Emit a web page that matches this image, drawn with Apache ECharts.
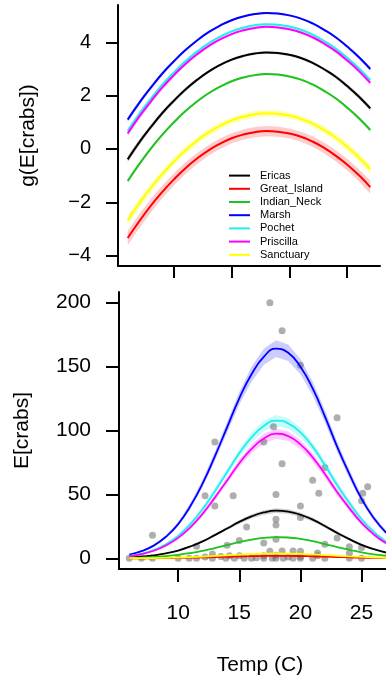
<!DOCTYPE html>
<html>
<head>
<meta charset="utf-8">
<title>Crabs vs temperature</title>
<script src="https://cdn.jsdelivr.net/npm/echarts@6/dist/echarts.min.js"></script>
<style>
  html, body { margin: 0; padding: 0; background: #fff; }
  #chart { width: 386px; height: 681px; }
</style>
</head>
<body>
<div id="chart"></div>
<script>
// temperature grid the fitted curves were read at
const temps = [6, 7, 8, 9, 10, 11, 12, 13, 14, 15, 16, 17, 18, 19, 20, 21, 22, 23, 24, 25, 26, 27];

const sites = ['Ericas', 'Great_Island', 'Indian_Neck', 'Marsh', 'Pochet', 'Priscilla', 'Sanctuary'];
const siteColors = ['#000000', '#ff0000', '#1fc21f', '#0000ff', '#22eeee', '#ff00ff', '#ffff00'];
const bandColors = ['rgba(0,0,0,0.18)', 'rgba(255,0,0,0.2)', 'rgba(31,194,31,0.2)', 'rgba(0,0,255,0.2)',
  'rgba(34,238,238,0.25)', 'rgba(255,0,255,0.2)', 'rgba(255,255,0,0.3)'];

// top panel: link scale g(E[crabs])
const linkEricas = [-0.39, 0.25, 0.82, 1.35, 1.81, 2.23, 2.59, 2.90, 3.15, 3.35, 3.49, 3.58, 3.62, 3.60, 3.53, 3.41, 3.23, 2.99, 2.71, 2.36, 1.97, 1.52];
const linkGreatIsland = [-3.34, -2.71, -2.13, -1.61, -1.14, -0.72, -0.36, -0.05, 0.20, 0.40, 0.54, 0.63, 0.67, 0.65, 0.58, 0.46, 0.28, 0.04, -0.25, -0.59, -0.98, -1.43];
const linkIndianNeck = [-1.20, -0.57, 0.01, 0.54, 1.00, 1.42, 1.78, 2.09, 2.34, 2.54, 2.68, 2.77, 2.81, 2.79, 2.72, 2.60, 2.42, 2.18, 1.90, 1.55, 1.16, 0.71];
const linkMarsh = [1.10, 1.73, 2.30, 2.83, 3.29, 3.71, 4.07, 4.38, 4.63, 4.83, 4.97, 5.06, 5.10, 5.08, 5.01, 4.89, 4.71, 4.47, 4.19, 3.84, 3.45, 3.00];
const linkPochet = [0.68, 1.31, 1.88, 2.41, 2.87, 3.29, 3.65, 3.96, 4.21, 4.41, 4.55, 4.64, 4.68, 4.66, 4.59, 4.47, 4.29, 4.05, 3.77, 3.42, 3.03, 2.58];
const linkPriscilla = [0.58, 1.21, 1.78, 2.31, 2.77, 3.19, 3.55, 3.86, 4.11, 4.31, 4.45, 4.54, 4.58, 4.56, 4.49, 4.37, 4.19, 3.95, 3.67, 3.32, 2.93, 2.48];
const linkSanctuary = [-2.67, -2.04, -1.46, -0.94, -0.47, -0.05, 0.31, 0.62, 0.87, 1.07, 1.21, 1.30, 1.34, 1.32, 1.25, 1.13, 0.95, 0.71, 0.43, 0.08, -0.31, -0.76];

// half widths of the shaded bands, link scale
const linkSeEricas = [0.12, 0.11, 0.10, 0.09, 0.08, 0.07, 0.06, 0.055, 0.05, 0.05, 0.05, 0.05, 0.05, 0.05, 0.05, 0.05, 0.055, 0.06, 0.07, 0.08, 0.09, 0.10];
const linkSeGreatIsland = [0.27, 0.26, 0.25, 0.24, 0.23, 0.22, 0.21, 0.20, 0.20, 0.19, 0.19, 0.19, 0.19, 0.19, 0.19, 0.19, 0.20, 0.20, 0.21, 0.22, 0.23, 0.25];
const linkSeIndianNeck = [0.09, 0.08, 0.07, 0.065, 0.06, 0.055, 0.05, 0.045, 0.04, 0.04, 0.04, 0.04, 0.04, 0.04, 0.04, 0.04, 0.045, 0.05, 0.05, 0.06, 0.07, 0.08];
const linkSeMarsh = [0.10, 0.09, 0.08, 0.07, 0.06, 0.05, 0.045, 0.04, 0.035, 0.035, 0.035, 0.035, 0.035, 0.035, 0.035, 0.035, 0.04, 0.04, 0.05, 0.055, 0.065, 0.08];
const linkSePochet = [0.11, 0.10, 0.09, 0.08, 0.07, 0.06, 0.05, 0.045, 0.04, 0.04, 0.04, 0.04, 0.04, 0.04, 0.04, 0.04, 0.045, 0.05, 0.055, 0.065, 0.075, 0.09];
const linkSePriscilla = [0.11, 0.10, 0.09, 0.08, 0.07, 0.06, 0.05, 0.045, 0.04, 0.04, 0.04, 0.04, 0.04, 0.04, 0.04, 0.04, 0.045, 0.05, 0.055, 0.065, 0.075, 0.09];
const linkSeSanctuary = [0.18, 0.17, 0.16, 0.15, 0.145, 0.14, 0.13, 0.13, 0.12, 0.12, 0.12, 0.12, 0.12, 0.12, 0.12, 0.12, 0.13, 0.13, 0.14, 0.15, 0.16, 0.17];

// bottom panel: response scale E[crabs]
const crabsEricas = [0.68, 1.28, 2.27, 3.86, 6.11, 9.30, 13.3, 18.2, 23.3, 28.5, 32.8, 35.9, 37.3, 36.6, 34.1, 30.3, 25.3, 19.9, 15.0, 10.6, 7.17, 4.57];
const crabsGreatIsland = [0.035, 0.067, 0.12, 0.20, 0.32, 0.49, 0.70, 0.95, 1.22, 1.49, 1.72, 1.88, 1.95, 1.92, 1.79, 1.58, 1.32, 1.04, 0.78, 0.55, 0.38, 0.24];
const crabsIndianNeck = [0.30, 0.57, 1.01, 1.72, 2.72, 4.14, 5.93, 8.08, 10.4, 12.7, 14.6, 16.0, 16.6, 16.3, 15.2, 13.5, 11.2, 8.85, 6.69, 4.71, 3.19, 2.03];
const crabsMarsh = [3.00, 5.64, 9.97, 16.9, 26.8, 40.9, 58.6, 79.8, 102.5, 125.2, 144.0, 157.6, 164.0, 160.8, 149.9, 132.9, 111.1, 87.4, 66.0, 46.5, 31.5, 20.1];
const crabsPochet = [1.97, 3.71, 6.55, 11.1, 17.6, 26.8, 38.5, 52.5, 67.4, 82.3, 94.6, 103.5, 107.8, 105.6, 98.5, 87.4, 73.0, 57.4, 43.4, 30.6, 20.7, 13.2];
const crabsPriscilla = [1.79, 3.35, 5.93, 10.1, 16.0, 24.3, 34.8, 47.5, 60.9, 74.4, 85.6, 93.7, 97.5, 95.6, 89.1, 79.0, 66.0, 51.9, 39.3, 27.7, 18.7, 11.9];
const crabsSanctuary = [0.07, 0.13, 0.23, 0.39, 0.63, 0.95, 1.36, 1.86, 2.39, 2.92, 3.35, 3.67, 3.82, 3.74, 3.49, 3.10, 2.59, 2.03, 1.54, 1.08, 0.73, 0.47];

const crabsSeEricas = [0.08, 0.14, 0.23, 0.35, 0.49, 0.65, 0.8, 1.0, 1.2, 1.4, 1.6, 1.8, 1.9, 1.8, 1.7, 1.5, 1.4, 1.2, 1.05, 0.85, 0.65, 0.46];
const crabsSeGreatIsland = [0.01, 0.02, 0.03, 0.05, 0.07, 0.11, 0.15, 0.19, 0.24, 0.28, 0.33, 0.36, 0.37, 0.36, 0.34, 0.30, 0.26, 0.21, 0.16, 0.12, 0.09, 0.06];
const crabsSeIndianNeck = [0.03, 0.05, 0.07, 0.11, 0.16, 0.23, 0.3, 0.36, 0.42, 0.5, 0.58, 0.64, 0.66, 0.65, 0.61, 0.54, 0.5, 0.44, 0.33, 0.28, 0.22, 0.16];
const crabsSeMarsh = [0.3, 0.5, 0.8, 1.2, 1.7, 2.2, 2.9, 3.6, 4.2, 5.0, 5.8, 6.3, 6.5, 6.4, 6.0, 5.4, 4.9, 4.0, 3.5, 2.7, 2.1, 1.6];
const crabsSePochet = [0.2, 0.37, 0.6, 0.9, 1.2, 1.6, 1.9, 2.4, 2.7, 3.3, 3.8, 4.1, 4.3, 4.2, 3.9, 3.5, 3.3, 2.9, 2.4, 2.0, 1.55, 1.2];
const crabsSePriscilla = [0.2, 0.34, 0.53, 0.8, 1.1, 1.45, 1.75, 2.1, 2.4, 3.0, 3.4, 3.7, 3.9, 3.8, 3.6, 3.2, 3.0, 2.6, 2.2, 1.8, 1.4, 1.1];
const crabsSeSanctuary = [0.01, 0.02, 0.04, 0.06, 0.09, 0.13, 0.18, 0.24, 0.29, 0.35, 0.4, 0.44, 0.46, 0.45, 0.42, 0.37, 0.34, 0.26, 0.22, 0.16, 0.12, 0.08];

// observed counts [temp, crabs]
const observed = [
  [17.5, 200], [18.5, 178], [20.0, 151], [23.0, 110], [13.0, 91], [17.0, 91], [17.8, 103],
  [18.5, 74], [22.0, 71], [21.0, 61], [21.5, 51], [12.2, 49], [14.5, 49], [18.0, 50],
  [13.0, 41], [20.0, 41], [25.1, 51], [25.5, 56], [25.0, 45],
  [18.0, 30.5], [18.0, 26], [20.0, 32], [15.6, 24.5], [23.0, 16], [7.9, 18], [11.5, 9.4],
  [15.0, 14], [17.0, 12], [18.0, 15], [14.0, 10.3], [22.0, 11], [24.0, 9], [25.0, 8.5],
  [24.0, 4], [17.5, 5.5], [18.5, 5.8], [19.4, 5.7], [20.0, 5.5], [21.4, 4.2], [12.8, 3.4],
  [6.0, 0], [7.0, 0], [7.9, 0], [10.0, 0], [10.9, 0], [11.5, 0], [12.2, 1], [12.8, 0],
  [13.9, 0], [14.6, 0], [15.0, 2], [15.4, 0], [16.0, 0], [16.4, 0.5], [17.0, 0], [17.0, 2],
  [17.7, 0], [18.0, 2.5], [18.0, 0], [18.6, 0], [19.0, 1], [19.4, 0], [20.0, 0], [20.0, 1.5],
  [21.0, 0], [21.4, 2], [22.0, 0], [24.0, 0], [25.0, 0], [13.5, 1.5], [14.2, 2]
];

const xTicks = [10, 15, 20, 25];
const linkTicks = [-4, -2, 0, 2, 4];
const crabsTicks = [0, 50, 100, 150, 200];

const linkMeans = [linkEricas, linkGreatIsland, linkIndianNeck, linkMarsh, linkPochet, linkPriscilla, linkSanctuary];
const linkSes = [linkSeEricas, linkSeGreatIsland, linkSeIndianNeck, linkSeMarsh, linkSePochet, linkSePriscilla, linkSeSanctuary];
const crabsMeans = [crabsEricas, crabsGreatIsland, crabsIndianNeck, crabsMarsh, crabsPochet, crabsPriscilla, crabsSanctuary];
const crabsSes = [crabsSeEricas, crabsSeGreatIsland, crabsSeIndianNeck, crabsSeMarsh, crabsSePochet, crabsSePriscilla, crabsSeSanctuary];

const FONT = '"Liberation Sans", Arial, Helvetica, sans-serif';

// shaded band: polygon through mean+se, back along mean-se
function bandSeries(panel, idx, mean, se) {
  return {
    type: 'custom',
    name: sites[idx] + ' band' + panel,
    coordinateSystem: 'cartesian2d',
    xAxisIndex: panel,
    yAxisIndex: panel,
    silent: true,
    data: [[temps[0], mean[0]]],
    renderItem: (params, api) => {
      const upper = temps.map((t, i) => api.coord([t, mean[i] + se[i]]));
      const lower = temps.map((t, i) => api.coord([t, mean[i] - se[i]])).reverse();
      return {
        type: 'polygon',
        shape: { points: upper.concat(lower) },
        style: { fill: bandColors[idx], stroke: null }
      };
    }
  };
}

function lineSeries(panel, idx, mean, width) {
  return {
    name: panel === 0 ? sites[idx] : sites[idx] + ' E',
    type: 'line',
    xAxisIndex: panel,
    yAxisIndex: panel,
    data: temps.map((t, i) => [t, mean[i]]),
    smooth: true,
    symbol: 'none',
    silent: true,
    itemStyle: { color: siteColors[idx] },
    lineStyle: { color: siteColors[idx], width: width }
  };
}

const series = [];
series.push({
  type: 'scatter',
  xAxisIndex: 1,
  yAxisIndex: 1,
  data: observed,
  symbolSize: 7,
  silent: true,
  itemStyle: { color: 'rgba(100,100,100,0.65)' }
});
sites.forEach((s, i) => {
  series.push(bandSeries(0, i, linkMeans[i], linkSes[i]));
  series.push(bandSeries(1, i, crabsMeans[i], crabsSes[i]));
});
sites.forEach((s, i) => {
  series.push(lineSeries(0, i, linkMeans[i], 2));
  series.push(lineSeries(1, i, crabsMeans[i], 1.8));
});

const axisLine = { show: true, onZero: false, lineStyle: { color: '#000', width: 2 } };
const axisTickStyle = { lineStyle: { color: '#000', width: 2 } };
const minus = v => String(v).replace('-', '\u2212');

const option = {
  animation: false,
  backgroundColor: '#fff',
  textStyle: { fontFamily: FONT },
  grid: [
    { left: 118, top: 5, width: 262, height: 261 },
    // bottom panel runs off the right edge of the picture
    { left: 119, top: 292, right: 0, height: 277 }
  ],
  legend: {
    orient: 'vertical',
    left: 229,
    top: 169,
    padding: 0,
    icon: 'rect',
    itemWidth: 21,
    itemHeight: 2,
    itemGap: 0,
    selectedMode: false,
    data: sites,
    textStyle: { fontFamily: FONT, fontSize: 11, color: '#000', lineHeight: 13.2, padding: [0, 0, 0, 5] }
  },
  xAxis: [
    {
      type: 'value', gridIndex: 0, min: 5.16, max: 27.84,
      axisLine: axisLine,
      axisTick: Object.assign({ length: 12, customValues: xTicks }, axisTickStyle),
      axisLabel: { show: false, customValues: xTicks },
      splitLine: { show: false }
    },
    {
      type: 'value', gridIndex: 1, min: 5.16, max: 27.0,
      name: 'Temp (C)', nameLocation: 'middle', nameGap: 86,
      nameTextStyle: { fontFamily: FONT, fontSize: 21, color: '#000', padding: [0, 0, 0, 15] },
      axisLine: axisLine,
      axisTick: Object.assign({ length: 13, customValues: xTicks }, axisTickStyle),
      axisLabel: { customValues: xTicks, fontFamily: FONT, fontSize: 21, color: '#000', margin: 34 },
      splitLine: { show: false }
    }
  ],
  yAxis: [
    {
      type: 'value', gridIndex: 0, min: -4.39, max: 5.40,
      name: 'g(E[crabs])', nameLocation: 'middle', nameGap: 79,
      nameTextStyle: { fontFamily: FONT, fontSize: 21, color: '#000' },
      axisLine: axisLine,
      axisTick: Object.assign({ length: 12, customValues: linkTicks }, axisTickStyle),
      axisLabel: { customValues: linkTicks, formatter: minus, fontFamily: FONT, fontSize: 20, color: '#000', margin: 27 },
      splitLine: { show: false }
    },
    {
      type: 'value', gridIndex: 1, min: -8.33, max: 208.33,
      name: 'E[crabs]', nameLocation: 'middle', nameGap: 86,
      nameTextStyle: { fontFamily: FONT, fontSize: 21, color: '#000' },
      axisLine: axisLine,
      axisTick: Object.assign({ length: 13, customValues: crabsTicks }, axisTickStyle),
      axisLabel: { customValues: crabsTicks, fontFamily: FONT, fontSize: 21, color: '#000', margin: 28 },
      splitLine: { show: false }
    }
  ],
  series: series
};

const chart = echarts.init(document.getElementById('chart'));
chart.setOption(option);
</script>
</body>
</html>
